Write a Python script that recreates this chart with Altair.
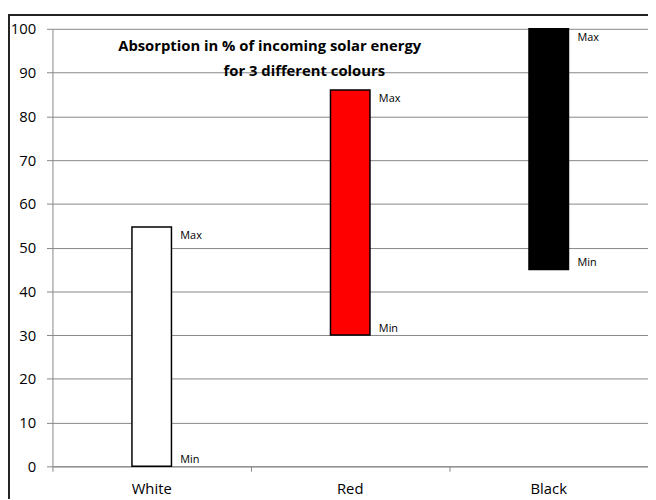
import altair as alt
import pandas as pd

colours = ["White", "Red", "Black"]
mins = [0, 30, 45]
maxs = [54.7, 86, 100]
fills = ["#FFFFFF", "#FF0000", "#000000"]
y_ticks = [0, 10, 20, 30, 40, 50, 60, 70, 80, 90, 100]
title1 = "Absorption in % of incoming solar energy"
title2 = "for 3 different colours"

FONT = "Open Sans"
GRID = "#868686"

df = pd.DataFrame({"colour": colours, "min": mins, "max": maxs,
                   "maxlab": ["Max"] * 3, "minlab": ["Min"] * 3})

xenc = alt.X("colour:N", sort=colours,
             scale=alt.Scale(domain=colours, paddingInner=0, paddingOuter=0),
             axis=alt.Axis(title=None, labels=False, bandPosition=0, tickSize=5,
                           tickColor=GRID, domainColor=GRID, grid=False))
yscale = alt.Scale(domain=[0, 100], nice=False, zero=True)

base = alt.Chart(df)

bars = base.mark_bar(size=40, stroke="black", strokeWidth=1.5).encode(
    x=xenc,
    y=alt.Y("min:Q", scale=yscale,
            axis=alt.Axis(title=None, values=y_ticks, tickSize=6, labelPadding=11,
                          labelFont=FONT, labelFontSize=15, labelColor="black",
                          tickColor=GRID, domainColor=GRID, gridColor=GRID,
                          gridWidth=1, grid=True)),
    y2="max:Q",
    color=alt.Color("colour:N", scale=alt.Scale(domain=colours, range=fills), legend=None),
)

maxlab = base.mark_text(align="left", baseline="middle", dx=29, dy=9,
                        font=FONT, fontSize=11, color="black").encode(
    x=alt.X("colour:N", sort=colours), y=alt.Y("max:Q", scale=yscale), text="maxlab:N")
minlab = base.mark_text(align="left", baseline="middle", dx=29, dy=-6,
                        font=FONT, fontSize=11, color="black").encode(
    x=alt.X("colour:N", sort=colours), y=alt.Y("min:Q", scale=yscale), text="minlab:N")

catlab = base.mark_text(align="center", baseline="top", font=FONT, fontSize=15,
                        color="black").encode(
    x=alt.X("colour:N", sort=colours), y=alt.value(459), text="colour:N")

t1 = alt.Chart(pd.DataFrame({"t": [title1]})).mark_text(
    align="center", baseline="alphabetic", font=FONT, fontSize=15, fontWeight="bold",
    color="black").encode(x=alt.value(220), y=alt.value(22.5), text="t:N")
t2 = alt.Chart(pd.DataFrame({"t": [title2]})).mark_text(
    align="center", baseline="alphabetic", font=FONT, fontSize=15, fontWeight="bold",
    color="black").encode(x=alt.value(255), y=alt.value(47.5), text="t:N")

frame = alt.Chart(pd.DataFrame({"f": [0]})).mark_rect(
    fill=None, stroke="#222222", strokeWidth=2).encode(
    x=alt.value(-44), x2=alt.value(700), y=alt.value(-14), y2=alt.value(600))

chart = alt.layer(frame, bars, maxlab, minlab, catlab, t1, t2).properties(
    width=603, height=443,
    autosize=alt.AutoSizeParams(type="none"),
    padding={"left": 45, "top": 18, "right": 0, "bottom": 30},
).configure_view(stroke=None)

chart.save("out.html", embed_options={"renderer": "svg", "actions": False})
